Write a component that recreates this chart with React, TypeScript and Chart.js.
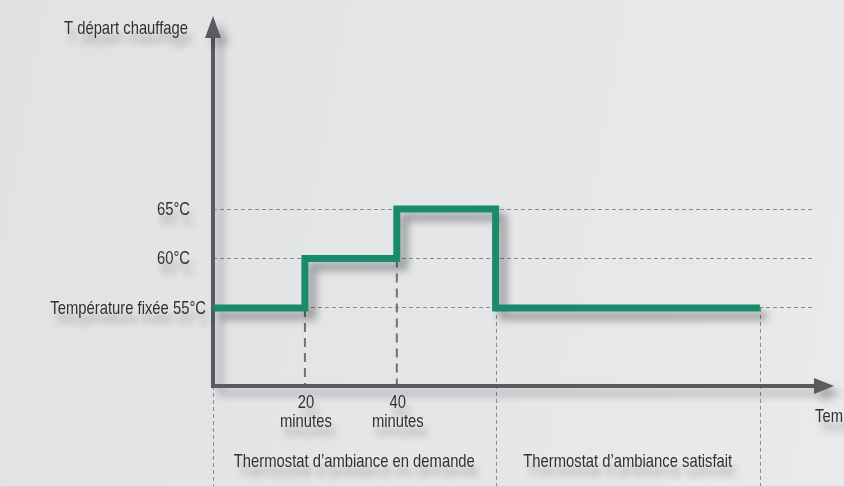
import React, { useEffect, useRef } from 'react';
import { Chart, registerables } from 'chart.js';

Chart.register(...registerables);

const FONT_FAMILY = "'Liberation Sans', Arial, sans-serif";
const FONT_SIZE = 18.5;
const SQUASH = 0.8; // condensed look of the original lettering
const TEXT_COLOR = '#303133';

// ---- data ----
const timeMinutes = [0, 20, 40, 61.5, 119];
const flowTemps = [55, 60, 65, 55, 55];
const tempTicks = [55, 60, 65];
const tempTickLabels = ['Température fixée 55°C', '60°C', '65°C'];
const timeTicks = [20, 40];
const timeTickLabels = [['20', 'minutes'], ['40', 'minutes']];
const phaseBounds = [0, 61.5, 119];
const phaseLabels = ['Thermostat d’ambiance en demande', 'Thermostat d’ambiance satisfait'];
const yAxisTitle = 'T départ chauffage';
const xAxisTitle = 'Temps';

const AXIS_COLOR = '#5a5b60';
const LINE_COLOR = '#178b6b';

function seg(ctx: CanvasRenderingContext2D, x1: number, y1: number, x2: number, y2: number) {
  ctx.beginPath();
  ctx.moveTo(x1, y1);
  ctx.lineTo(x2, y2);
  ctx.stroke();
}

function text(ctx: CanvasRenderingContext2D, s: string, x: number, y: number, align: CanvasTextAlign) {
  ctx.save();
  ctx.translate(x, y);
  ctx.scale(SQUASH, 1);
  ctx.textAlign = align;
  ctx.textBaseline = 'alphabetic';
  ctx.fillText(s, 0, 0);
  ctx.restore();
}

const decorPlugin = {
  id: 'decor',
  beforeDatasetsDraw(chart: any) {
    const { ctx, chartArea: a, scales } = chart;
    const x = scales.x;
    const y = scales.y;
    ctx.save();
    // phase boundaries (thin dotted)
    ctx.strokeStyle = '#8b8c90';
    ctx.lineWidth = 1;
    ctx.setLineDash([4, 3]);
    const minTemp = Math.min(...flowTemps);
    phaseBounds.forEach((b, i) => {
      const px = Math.round(x.getPixelForValue(b)) + 0.5;
      const top = i === 0 ? a.bottom : y.getPixelForValue(minTemp);
      seg(ctx, px, top, px, chart.height);
    });
    // step guides (long dashes)
    ctx.strokeStyle = '#707176';
    ctx.lineWidth = 2;
    ctx.setLineDash([9, 6]);
    timeTicks.forEach((t) => {
      const idx = timeMinutes.indexOf(t);
      const v = flowTemps[Math.max(0, idx - 1)];
      const px = x.getPixelForValue(t);
      seg(ctx, px, y.getPixelForValue(v), px, a.bottom);
    });
    // axes with arrows and shadow
    ctx.setLineDash([]);
    ctx.shadowColor = 'rgba(0,0,0,0.32)';
    ctx.shadowBlur = 9;
    ctx.shadowOffsetX = 7;
    ctx.shadowOffsetY = 7;
    ctx.strokeStyle = AXIS_COLOR;
    ctx.fillStyle = AXIS_COLOR;
    ctx.lineWidth = 4;
    ctx.lineCap = 'butt';
    ctx.beginPath();
    ctx.moveTo(a.left, a.top);
    ctx.lineTo(a.left, a.bottom);
    ctx.lineTo(a.right, a.bottom);
    ctx.stroke();
    ctx.beginPath();
    ctx.moveTo(a.left, a.top - 21);
    ctx.lineTo(a.left + 8, a.top + 1);
    ctx.lineTo(a.left - 8, a.top + 1);
    ctx.closePath();
    ctx.fill();
    ctx.beginPath();
    ctx.moveTo(a.right + 19, a.bottom);
    ctx.lineTo(a.right - 1, a.bottom - 8);
    ctx.lineTo(a.right - 1, a.bottom + 8);
    ctx.closePath();
    ctx.fill();
    ctx.restore();
    // shadow for the data line
    ctx.save();
    ctx.shadowColor = 'rgba(0,0,0,0.38)';
    ctx.shadowBlur = 9;
    ctx.shadowOffsetX = 7;
    ctx.shadowOffsetY = 8;
  },
  afterDatasetsDraw(chart: any) {
    chart.ctx.restore();
  },
  afterDraw(chart: any) {
    const { ctx, chartArea: a, scales } = chart;
    const x = scales.x;
    const y = scales.y;
    ctx.save();
    ctx.shadowColor = 'rgba(0,0,0,0.3)';
    ctx.shadowBlur = 7;
    ctx.shadowOffsetX = 4;
    ctx.shadowOffsetY = 10;
    ctx.fillStyle = TEXT_COLOR;
    ctx.font = `${FONT_SIZE}px ${FONT_FAMILY}`;

    // y tick labels (from the y scale's ticks)
    y.ticks.forEach((tk: any, i: number) => {
      const idx = tempTicks.indexOf(tk.value);
      if (idx < 0) return;
      const gy = y.getPixelForValue(tk.value);
      text(ctx, tempTickLabels[idx], a.left - (i === 0 ? 7 : 23), gy + 6, 'right');
    });
    // x tick labels
    x.ticks.forEach((tk: any) => {
      const idx = timeTicks.indexOf(tk.value);
      if (idx < 0) return;
      const px = x.getPixelForValue(tk.value);
      const lines = timeTickLabels[idx];
      lines.forEach((ln, j) => text(ctx, ln, px + 1, a.bottom + 22 + j * 19, 'center'));
    });
    // axis titles
    text(ctx, yAxisTitle, a.left - 25, a.top - 3, 'right');
    text(ctx, xAxisTitle, a.right, a.bottom + 36, 'left');
    // phase labels
    phaseLabels.forEach((lab, i) => {
      const cx = (x.getPixelForValue(phaseBounds[i]) + x.getPixelForValue(phaseBounds[i + 1])) / 2;
      text(ctx, lab, cx, a.bottom + 81, 'center');
    });
    ctx.restore();
  },
};

export default function App() {
  const ref = useRef<HTMLCanvasElement>(null);
  useEffect(() => {
    if (!ref.current) return;
    const chart = new Chart(ref.current, {
      type: 'line',
      data: {
        datasets: [
          {
            data: timeMinutes.map((t, i) => ({ x: t, y: flowTemps[i] })),
            borderColor: LINE_COLOR,
            borderWidth: 7,
            stepped: 'before',
            pointRadius: 0,
            fill: false,
            clip: false as any,
            borderJoinStyle: 'miter',
            borderCapStyle: 'butt',
          },
        ],
      },
      plugins: [decorPlugin],
      options: {
        responsive: false,
        animation: false,
        events: [],
        layout: { padding: { left: 0, right: 29, top: 37, bottom: 0 } },
        plugins: { legend: { display: false }, tooltip: { enabled: false } },
        scales: {
          x: {
            type: 'linear',
            min: 0,
            max: 131,
            grid: { display: false, drawTicks: false },
            border: { display: false },
            afterFit: (s: any) => { s.height = 100; },
            afterBuildTicks: (s: any) => { s.ticks = timeTicks.map((v) => ({ value: v })); },
            ticks: { display: false, autoSkip: false },
          },
          y: {
            type: 'linear',
            min: 47.1,
            max: 82.4,
            grid: { display: true, drawTicks: false, color: '#8a8b8f', lineWidth: 1 },
            border: { display: false, dash: [4, 3] },
            afterFit: (s: any) => { s.width = 213; },
            afterBuildTicks: (s: any) => { s.ticks = tempTicks.map((v) => ({ value: v })); },
            ticks: { display: false, autoSkip: false },
          },
        },
      },
    } as any);
    return () => chart.destroy();
  }, []);
  return (
    <div
      style={{
        position: 'absolute',
        left: 0,
        top: 0,
        width: 844,
        height: 486,
        overflow: 'hidden',
        background: 'linear-gradient(100deg, #e1e2e4 0%, #e5e6e7 55%, #eaeaea 100%)',
      }}
    >
      <canvas ref={ref} width={844} height={486} style={{ display: 'block', width: 844, height: 486 }} />
    </div>
  );
}
